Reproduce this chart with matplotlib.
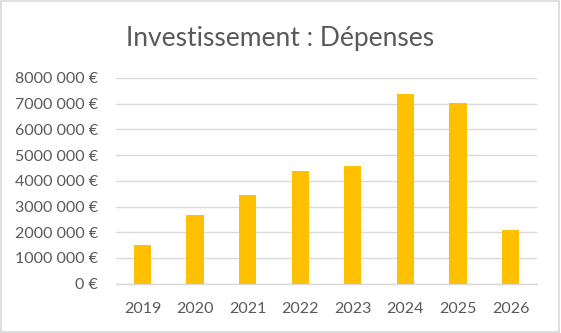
"""Bar chart of yearly investment spending."""

import matplotlib.pyplot as plt
from matplotlib.patches import Rectangle
from matplotlib.ticker import FixedLocator, FixedFormatter

years = ["2019", "2020", "2021", "2022", "2023", "2024", "2025", "2026"]
depenses = [1510000, 2670000, 3450000, 4390000, 4580000, 7380000, 7030000, 2090000]

y_ticks = [0, 1000000, 2000000, 3000000, 4000000, 5000000, 6000000, 7000000, 8000000]
y_labels = ["0 €", "1000 000 €", "2000 000 €", "3000 000 €", "4000 000 €",
            "5000 000 €", "6000 000 €", "7000 000 €", "8000 000 €"]

BAR_COLOR = "#FFC000"
GRID_COLOR = "#D9D9D9"
TEXT_COLOR = "#595959"

plt.rcParams["font.family"] = ["Lato", "DejaVu Sans"]

fig = plt.figure(figsize=(5.61, 3.33), dpi=100)
ax = fig.add_axes([0.207, 0.148, 0.75, 0.618])

x = range(len(years))
ax.bar(x, depenses, width=0.33, color=BAR_COLOR, zorder=3)

ax.set_xlim(-0.5, len(years) - 0.5)
ax.set_ylim(0, 8000000)
ax.yaxis.set_major_locator(FixedLocator(y_ticks))
ax.yaxis.set_major_formatter(FixedFormatter(y_labels))
ax.set_xticks(list(x))
ax.set_xticklabels(years)

ax.grid(axis="y", color=GRID_COLOR, linewidth=1.0, zorder=0)
for side in ["top", "right", "left"]:
    ax.spines[side].set_visible(False)
ax.spines["bottom"].set_color(GRID_COLOR)
ax.spines["bottom"].set_linewidth(1.0)

ax.tick_params(axis="both", length=0, labelsize=11.5, labelcolor=TEXT_COLOR)
ax.tick_params(axis="y", pad=13)
ax.tick_params(axis="x", pad=13)

fig.text(0.5, 0.885, "Investissement : Dépenses", ha="center", va="center",
         fontsize=19, color=TEXT_COLOR)

# light frame around the chart area
fig.patches.append(Rectangle((0.002, 0.003), 0.995, 0.994, transform=fig.transFigure,
                             fill=False, edgecolor=GRID_COLOR, linewidth=1.2))

fig.savefig("out.png", dpi=100, facecolor="white")
